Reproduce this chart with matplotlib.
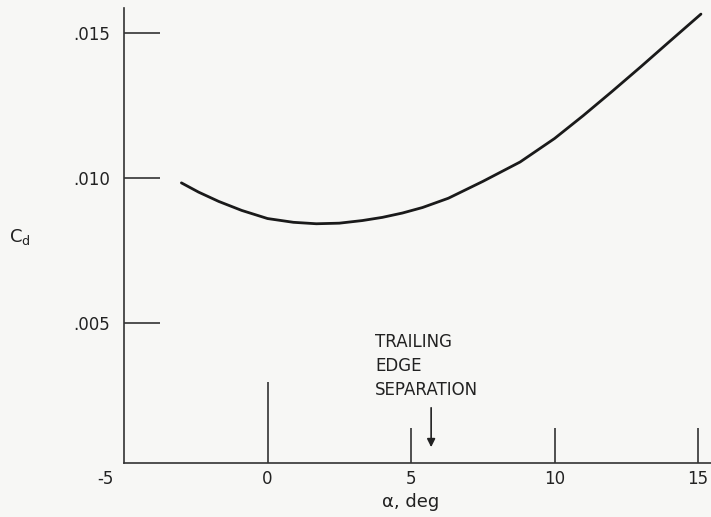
import matplotlib
matplotlib.use("Agg")
import matplotlib.pyplot as plt
import matplotlib.transforms as mtransforms

# Data
alpha = [-3.0, -2.4, -1.7, -0.9, 0.0, 0.9, 1.7, 2.5, 3.3, 4.0, 4.7, 5.4, 6.3, 7.5, 8.8, 10.0, 11.0, 12.0, 13.0, 14.0, 15.1]
cd = [0.00983, 0.00951, 0.00919, 0.00888, 0.00860, 0.00847, 0.00842, 0.00844, 0.00853, 0.00864, 0.00879, 0.00898, 0.00930, 0.00988, 0.01055, 0.01136, 0.01215, 0.01298, 0.01383, 0.01470, 0.01565]

xticks = [-5, 0, 5, 10, 15]
xtick_labels = ["-5", "0", "5", "10", "15"]
yticks = [0.005, 0.010, 0.015]
ytick_labels = [".005", ".010", ".015"]
annot_text = "TRAILING\nEDGE\nSEPARATION"
annot_alpha = 5.7

plt.rcParams['font.family'] = ['DejaVu Sans']
fig = plt.figure(figsize=(7.11, 5.17), dpi=100)
fig.patch.set_facecolor('#f7f7f5')
ax = fig.add_axes([124/711, 54/517, 1 - 124/711, (463 - 8)/517])
ax.set_facecolor('#f7f7f5')

ax.plot(alpha, cd, color='#1a1a1a', lw=2.0, solid_capstyle='round')

ax.set_xlim(-5, 15.45)
ax.set_ylim(0.00017, 0.01586)

for s in ['top', 'right']:
    ax.spines[s].set_visible(False)
for s in ['left', 'bottom']:
    ax.spines[s].set_color('#333333')
    ax.spines[s].set_linewidth(1.2)

ax.set_xticks(xticks)
ax.set_xticklabels(xtick_labels, fontsize=12, color='#222222')
ax.set_yticks(yticks)
ax.set_yticklabels(ytick_labels, fontsize=12, color='#222222')
ax.tick_params(axis='y', direction='in', length=26, width=1.2, color='#333333', pad=10)
ax.tick_params(axis='x', direction='in', length=25, width=1.2, color='#333333', pad=5)

# -5 tick: no mark, label shifted left; 0 tick longer
xt = ax.xaxis.get_major_ticks()
xt[0].tick1line.set_visible(False)
xt[0].label1.set_horizontalalignment('right')
xt[0].label1.set_transform(xt[0].label1.get_transform()
                           + mtransforms.ScaledTranslation(-10/100, 0, fig.dpi_scale_trans))
xt[1].tick1line.set_markersize(58)

ax.text(-0.177, 0.497, "C$_\\mathregular{d}$", transform=ax.transAxes, fontsize=13,
        color='#222222', ha='center', va='center')
ax.text(5, -0.085, "α, deg", transform=ax.get_xaxis_transform(), fontsize=13,
        color='#222222', ha='center', va='center')

ax.text(3.75, 0.00466, annot_text, fontsize=12, color='#222222', ha='left', va='top',
        linespacing=1.45)
ax.annotate("", xy=(annot_alpha, 0.00062), xytext=(annot_alpha, 0.00217),
            arrowprops=dict(arrowstyle='-|>', color='#222222', lw=1.2, mutation_scale=12))

fig.savefig("out.png", dpi=100, facecolor=fig.get_facecolor())
